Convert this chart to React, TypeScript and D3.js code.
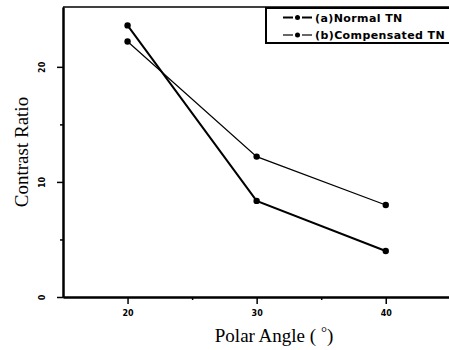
import React, { useEffect, useRef } from "react";
import * as d3 from "d3";

const angles = [20, 30, 40];
const normalTN = [23.6, 8.35, 4.0];
const compensatedTN = [22.2, 12.2, 8.0];
const xTicks = [20, 30, 40];
const yTicks = [0, 10, 20];
const legendLabels = ["(a)Normal TN", "(b)Compensated TN"];

function App() {
  const svgRef = useRef<SVGSVGElement>(null);
  const width = 449;
  const height = 350;
  const margin = { top: 7, right: 0, bottom: 53, left: 63 };

  useEffect(() => {
    const svg = d3.select(svgRef.current);
    svg.selectAll("*").remove();

    const x = d3
      .scaleLinear()
      .domain([15, 44.9])
      .range([margin.left, width - margin.right]);
    const y = d3
      .scaleLinear()
      .domain([0, 25.2])
      .range([height - margin.bottom, margin.top]);

    svg.append("rect").attr("width", width).attr("height", height).attr("fill", "#fff");

    // --- Axes ---
    const xAxis = svg
      .append("g")
      .attr("transform", `translate(0,${y(0)})`)
      .call(d3.axisBottom(x).tickValues(xTicks).tickSize(7).tickSizeOuter(0).tickFormat(d3.format("d")));
    xAxis
      .append("g")
      .call(d3.axisBottom(x).tickValues([25, 35]).tickSize(3).tickSizeOuter(0).tickFormat(() => ""));

    const yAxis = svg
      .append("g")
      .attr("transform", `translate(${x(15)},0)`)
      .call(d3.axisLeft(y).tickValues(yTicks).tickSize(6).tickSizeOuter(0).tickFormat(d3.format("d")));
    yAxis
      .append("g")
      .call(d3.axisLeft(y).tickValues([5, 15]).tickSize(3).tickSizeOuter(0).tickFormat(() => ""));

    svg.selectAll(".domain").attr("stroke", "#000").attr("stroke-width", 2);
    svg.selectAll(".tick line").attr("stroke", "#000").attr("stroke-width", 1.5);
    svg
      .selectAll(".tick text")
      .attr("font-family", "DejaVu Sans")
      .attr("font-weight", "bold")
      .attr("font-size", 8)
      .attr("fill", "#000");
    xAxis.selectAll(".tick text").attr("dy", "1.1em");
    yAxis
      .selectAll(".tick text")
      .attr("x", null)
      .attr("dy", null)
      .attr("text-anchor", "middle")
      .attr("transform", "translate(-21,0) rotate(-90)")
      .attr("y", 3);

    // top border
    svg
      .append("line")
      .attr("x1", x(15))
      .attr("x2", width)
      .attr("y1", y(25.2))
      .attr("y2", y(25.2))
      .attr("stroke", "#000")
      .attr("stroke-width", 1.5);

    // --- Axis titles ---
    svg
      .append("text")
      .attr("transform", `translate(28,${(y(0) + y(25.2)) / 2}) rotate(-90)`)
      .attr("text-anchor", "middle")
      .attr("font-family", "Liberation Serif")
      .attr("font-size", 19)
      .text("Contrast Ratio");
    const xt = svg
      .append("text")
      .attr("x", 274)
      .attr("y", 342)
      .attr("text-anchor", "middle")
      .attr("font-family", "Liberation Serif")
      .attr("font-size", 19);
    xt.append("tspan").text("Polar Angle ( ");
    xt.append("tspan").attr("dy", -5).attr("font-size", 15).text("°");
    xt.append("tspan").attr("dy", 5).text(")");

    // --- Series ---
    const series = [
      { values: normalTN, width: 2 },
      { values: compensatedTN, width: 1.2 },
    ];
    const line = d3
      .line<number>()
      .x((_, i) => x(angles[i]))
      .y(d => y(d));

    series.forEach(s => {
      svg
        .append("path")
        .datum(s.values)
        .attr("d", line)
        .attr("fill", "none")
        .attr("stroke", "#000")
        .attr("stroke-width", s.width);
      svg
        .selectAll(null)
        .data(s.values)
        .enter()
        .append("circle")
        .attr("cx", (_, i) => x(angles[i]))
        .attr("cy", d => y(d))
        .attr("r", 3.2)
        .attr("fill", "#000");
    });

    // --- Legend ---
    const legend = svg.append("g");
    legend
      .append("rect")
      .attr("x", 266)
      .attr("y", 8)
      .attr("width", 190)
      .attr("height", 35)
      .attr("fill", "#fff")
      .attr("stroke", "#000")
      .attr("stroke-width", 2);
    legendLabels.forEach((label, i) => {
      const ly = 17.5 + i * 17.5;
      const w = series[i].width;
      legend
        .append("line")
        .attr("x1", 283)
        .attr("x2", 293)
        .attr("y1", ly)
        .attr("y2", ly)
        .attr("stroke", "#000")
        .attr("stroke-width", w);
      legend
        .append("line")
        .attr("x1", 302)
        .attr("x2", 312)
        .attr("y1", ly)
        .attr("y2", ly)
        .attr("stroke", "#000")
        .attr("stroke-width", w);
      legend.append("circle").attr("cx", 297.5).attr("cy", ly).attr("r", 2.5).attr("fill", "#000");
      legend
        .append("text")
        .attr("x", 315)
        .attr("y", ly + 4)
        .attr("font-family", "DejaVu Sans")
        .attr("font-weight", "bold")
        .attr("font-size", 11)
        .attr("letter-spacing", 0.4)
        .text(label);
    });
  }, []);

  return (
    <svg
      ref={svgRef}
      width={width}
      height={height}
      style={{ position: "absolute", left: 0, top: 0 }}
    ></svg>
  );
}

export default App;
